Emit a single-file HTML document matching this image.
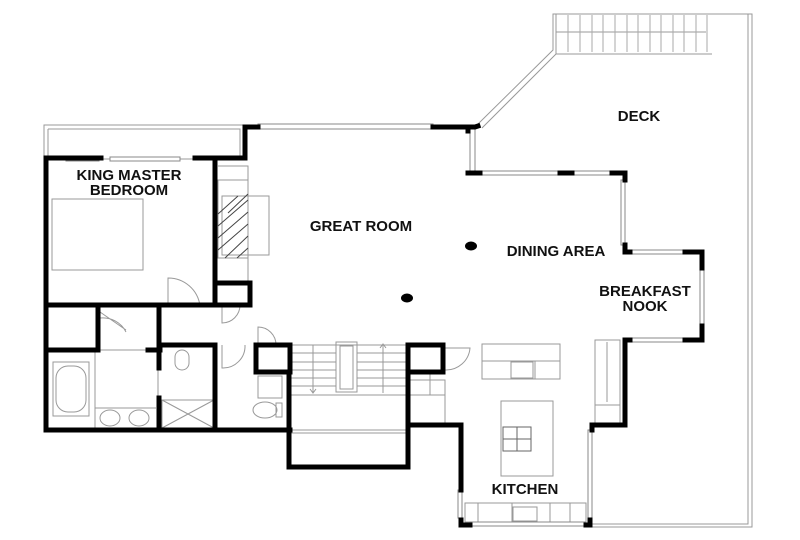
<!DOCTYPE html>
<html><head><meta charset="utf-8"><style>
html,body{margin:0;padding:0;background:#fff;width:800px;height:540px;overflow:hidden}
svg{display:block}
text{font-family:"Liberation Sans",sans-serif;font-weight:bold;font-size:15px;fill:#111;text-anchor:middle}
</style></head><body>
<svg width="800" height="540" viewBox="0 0 800 540">
<g fill="none" stroke="#999" stroke-width="1">
<path d="M478 124 L553 50 L553 14 L752 14 L752 527 L590 527"/>
<path d="M482 128 L556 54 L712 54 M556 14 L556 54 M748 14 L748 524 L590 524"/>
<path d="M556 32 L706 32"/>
<g stroke="#aaa">
<path d="M568 15V52M580 15V52M592 15V52M603 15V52M615 15V52M627 15V52M638 15V52M650 15V52M661 15V52M673 15V52M684 15V52M696 15V52M707 15V52"/>
</g>
<rect x="44" y="125" width="200" height="34"/>
<path d="M48 129H240V158M48 129V158"/>
<rect x="52" y="199" width="91" height="71"/>
<rect x="222" y="196" width="47" height="59"/>
<rect x="218" y="180" width="30" height="78"/>
<path d="M218 166H248V282"/>
<path d="M228 213 L248 194 M218 214 L238 196 M218 226 L248 200 M218 238 L248 212 M218 250 L248 224 M225 258 L248 236 M237 258 L248 248" stroke="#444"/>
<rect x="53" y="362" width="36" height="54"/>
<rect x="56" y="366" width="30" height="46" rx="12"/>
<rect x="95" y="350" width="63" height="80"/>
<path d="M95 408H156"/>
<ellipse cx="110" cy="418" rx="10" ry="8"/>
<ellipse cx="139" cy="418" rx="10" ry="8"/>
<rect x="162" y="400" width="52" height="28"/>
<path d="M162 400L214 428M214 400L162 428"/>
<rect x="175" y="350" width="14" height="20" rx="7"/>
<rect x="258" y="376" width="24" height="22"/>
<ellipse cx="265" cy="410" rx="12" ry="8"/>
<rect x="276" y="403" width="6" height="14"/>
<path d="M168 306V278 A32 32 0 0 1 200 306"/>
<path d="M222 305V323 A18 18 0 0 0 240 305"/>
<path d="M258 345V327 A18 18 0 0 1 276 345"/>
<path d="M222 345V368 A22 22 0 0 0 245 345"/>
<path d="M100 312L126 330 M100 318 A26 26 0 0 1 126 332"/>
<path d="M445 348H470 A24 24 0 0 1 445 370"/>
<path d="M290 345H408M290 353H336M357 353H408M290 362H336M357 362H408M290 370H336M357 370H408M290 378H336M357 378H408M290 386H336M357 386H408M290 395H408M290 430H408M290 433H408"/>
<rect x="336" y="342" width="21" height="50"/>
<rect x="340" y="346" width="13" height="43"/>
<path d="M313 345V393M310 389L313 393L316 389M383 345V393M380 348L383 344L386 348"/>
<rect x="482" y="344" width="78" height="35"/>
<path d="M482 361H560M535 361V379"/>
<rect x="511" y="362" width="22" height="16"/>
<rect x="501" y="401" width="52" height="75"/>
<rect x="503" y="427" width="28" height="24" stroke="#666"/>
<path d="M517 427V451M503 439H531" stroke="#666"/>
<rect x="595" y="340" width="25" height="85"/>
<path d="M595 405H620M607 342V402" />
<rect x="465" y="503" width="121" height="19"/>
<path d="M478 503V522M512 503V522M550 503V522M570 503V522"/>
<rect x="513" y="507" width="24" height="14"/>
<path d="M408 380H445V425M408 395H445M430 372V395"/>
</g>
<ellipse cx="471" cy="246" rx="6" ry="4.5" fill="#000"/>
<ellipse cx="407" cy="298" rx="6" ry="4.5" fill="#000"/>
<g stroke="#888" stroke-width="1" fill="#fff">
<rect x="258" y="124" width="175" height="5"/>
<rect x="470" y="128" width="5" height="45"/>
<rect x="480" y="171" width="80" height="4"/>
<rect x="572" y="171" width="40" height="4"/>
<rect x="621" y="180" width="4" height="65"/>
<rect x="630" y="250" width="55" height="4"/>
<rect x="700" y="268" width="4" height="58"/>
<rect x="630" y="338" width="55" height="4"/>
<rect x="588" y="430" width="4" height="90"/>
<rect x="458" y="490" width="4" height="28"/>
<rect x="470" y="522" width="115" height="4"/>
<rect x="303" y="465" width="95" height="4"/>
<rect x="44" y="168" width="4" height="28"/>
<rect x="44" y="268" width="4" height="28"/>
<rect x="44" y="362" width="4" height="48"/>
<rect x="60" y="428" width="25" height="4"/>
<rect x="66" y="157" width="33" height="4"/>
<rect x="110" y="157" width="70" height="4"/>
</g>
<g fill="none" stroke="#000" stroke-width="5" stroke-linecap="square">
<path d="M245 127H258M433 127H475L478 126"/>
<path d="M245 127V158H195M101 158H46V430H290M46 158H66"/>
<path d="M215 158V305H46M215 305H250V283H217"/>
<path d="M250 305H200"/>
<path d="M98 305V350H46M148 350H160"/>
<path d="M159 305V368M159 398V430"/>
<path d="M159 345H215M215 345V430"/>
<path d="M256 345H290V372H256Z"/>
<path d="M289 372V467H408V345"/>
<path d="M408 345H443V372H408"/>
<path d="M408 425H461V490M461 520V525H470"/>
<path d="M468 127V131M468 173H480M560 173H572M612 173H625V180M625 245V252H630M685 252H702V268M702 326V340H685M630 340H625V425H592V430M590 520V525H586"/>
</g>
<text x="129" y="180">KING MASTER</text>
<text x="129" y="195">BEDROOM</text>
<text x="361" y="231">GREAT ROOM</text>
<text x="639" y="121">DECK</text>
<text x="556" y="256">DINING AREA</text>
<text x="645" y="296">BREAKFAST</text>
<text x="645" y="311">NOOK</text>
<text x="525" y="494">KITCHEN</text>
</svg>
</body></html>
